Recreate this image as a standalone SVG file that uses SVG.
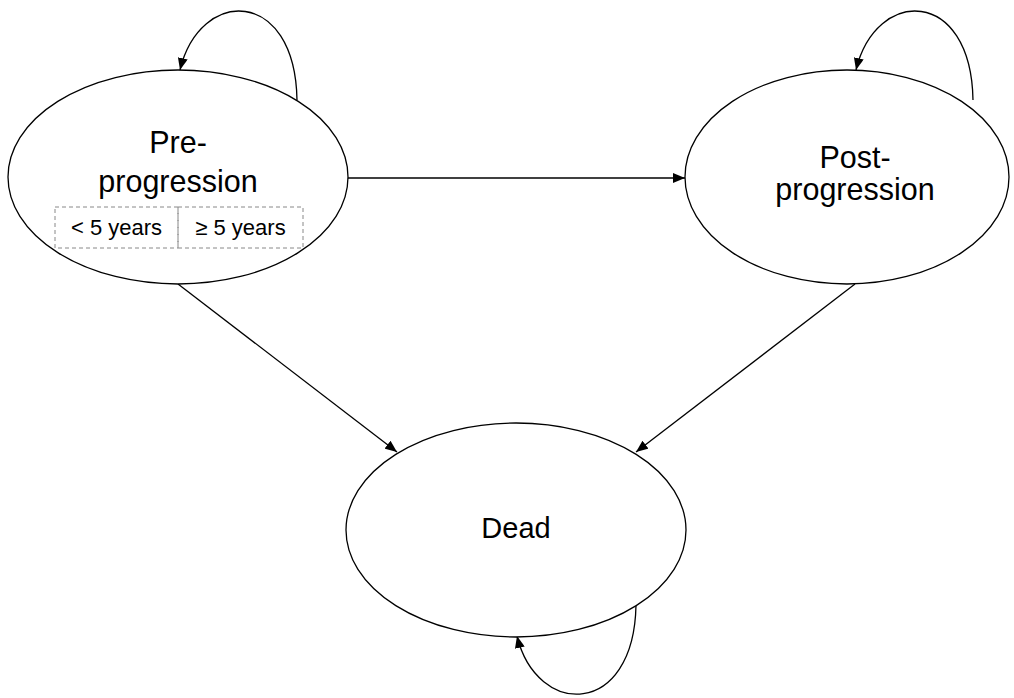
<svg xmlns="http://www.w3.org/2000/svg" width="1014" height="698" viewBox="0 0 1014 698">
<defs>
<marker id="arr" viewBox="0 0 12 10" refX="12" refY="5" markerWidth="12" markerHeight="10" markerUnits="userSpaceOnUse" orient="auto">
<path d="M0,0 L12,5 L0,10 Z" fill="#000"/>
</marker>
<style>
.node{fill:#fff;stroke:#000;stroke-width:1.3}
.lbl{font-family:"Liberation Sans",Arial,sans-serif;font-size:30.5px;fill:#000;text-anchor:middle}
.lbl2{font-family:"Liberation Sans",Arial,sans-serif;font-size:29px;fill:#000;text-anchor:middle}
.sub{font-family:"Liberation Sans",Arial,sans-serif;font-size:22px;fill:#000;text-anchor:middle}
.box{fill:none;stroke:#888;stroke-width:1;stroke-dasharray:4 3}
.edge{fill:none;stroke:#000;stroke-width:1.3;marker-end:url(#arr)}
</style>
</defs>
<rect width="1014" height="698" fill="#fff"/>
<g id="connectors">
<path class="edge" d="M297,100 C295,-13 200,-13 180,70"/>
<path class="edge" d="M973,100 C971,-13 876,-13 856,70"/>
<path class="edge" d="M636,605 C634,718 537,718 517,636"/>
<path class="edge" d="M347,178 L685,178"/>
<path class="edge" d="M178,284 L397,452"/>
<path class="edge" d="M855,284 L636,452"/>
</g>
<g id="pre">
<ellipse class="node" cx="178" cy="177" rx="170" ry="107"/>
<text class="lbl" x="178" y="153">Pre-</text>
<text class="lbl" x="178" y="192">progression</text>
<rect class="box" x="55" y="207" width="123" height="41"/>
<rect class="box" x="178" y="207" width="125" height="41"/>
<text class="sub" x="116.5" y="235">&lt; 5 years</text>
<text class="sub" x="240.5" y="235">≥ 5 years</text>
</g>
<g id="post">
<ellipse class="node" cx="847" cy="177" rx="162" ry="107"/>
<text class="lbl" x="855" y="168">Post-</text>
<text class="lbl" x="855" y="200">progression</text>
</g>
<g id="dead">
<ellipse class="node" cx="516" cy="530" rx="170" ry="107"/>
<text class="lbl2" x="516" y="538">Dead</text>
</g>
</svg>
